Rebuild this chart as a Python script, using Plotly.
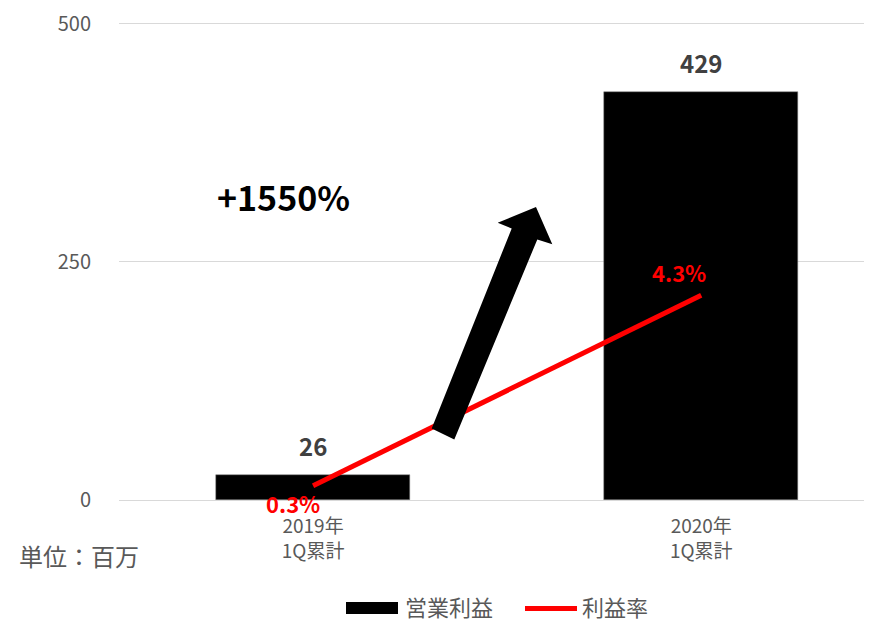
import plotly.graph_objects as go

categories = ["2019年<br>1Q累計", "2020年<br>1Q累計"]
profit = [26, 429]
margin = [0.003, 0.043]
margin_labels = ["0.3%", "4.3%"]
y_ticks = [0, 250, 500]

FONT = "Noto Sans CJK JP"
GRAY = "#595959"

fig = go.Figure()
fig.add_trace(go.Bar(x=categories, y=profit, width=0.5, marker=dict(color="black", line=dict(color="#7f7f7f", width=0.5)),
                     name="営業利益", showlegend=False, hoverinfo="skip"))
fig.add_trace(go.Scatter(x=categories, y=margin, yaxis="y2", mode="lines",
                         line=dict(color="#ff0000", width=5), name="利益率", showlegend=False, hoverinfo="skip"))

PLOT_TOP = 20  # screenshot pixel of plot-area top
PLOT_H = 480


# helpers: screenshot pixel -> plot-area paper coordinates
def px(x):
    return (x - 119) / 753


def py(y):
    return (PLOT_TOP + PLOT_H - y) / PLOT_H


ann = []
for c, v in zip(categories, profit):
    ann.append(dict(x=c, y=v, xref="x", yref="y", text=f"<b>{v}</b>", showarrow=False,
                    yanchor="bottom", yshift=10, font=dict(size=24, color="#404040", family=FONT)))
shifts = [(-20, -17), (-22, 23)]
for c, v, t, (dx, dy) in zip(categories, margin, margin_labels, shifts):
    ann.append(dict(x=c, y=v, xref="x", yref="y2", text=f"<b>{t}</b>", showarrow=False,
                    xanchor="center", yanchor="middle",
                    xshift=dx, yshift=dy, font=dict(size=22, color="#ff0000", family=FONT)))
ann.append(dict(x=px(283), y=py(195), xref="paper", yref="paper", text="<b>+1550%</b>",
                xanchor="center", yanchor="middle",
                showarrow=False, font=dict(size=34, color="black", family=FONT)))
ann.append(dict(x=px(17), y=py(556), xref="paper", yref="paper", text="単位：百万",
                showarrow=False, xanchor="left", yanchor="middle", font=dict(size=24, color=GRAY, family=FONT)))

# custom legend
ann.append(dict(x=px(403), y=py(606), xref="paper", yref="paper", text="営業利益", showarrow=False,
                xanchor="left", yanchor="middle", font=dict(size=22, color=GRAY, family=FONT)))
ann.append(dict(x=px(580), y=py(606), xref="paper", yref="paper", text="利益率", showarrow=False,
                xanchor="left", yanchor="middle", font=dict(size=22, color=GRAY, family=FONT)))

arrow_pts = [(431.7, 428.3), (511.7, 227.3), (497.7, 221.7), (536, 205.7), (552.3, 243.3), (537.3, 238.3), (454.3, 439.3)]
path = "M " + " L ".join(f"{px(x):.5f},{py(y):.5f}" for x, y in arrow_pts) + " Z"

shapes = [
    dict(type="path", path=path, xref="paper", yref="paper", fillcolor="black", line=dict(width=0)),
    dict(type="rect", x0=px(346), x1=px(398), y0=py(602.5), y1=py(614.5), xref="paper", yref="paper",
         fillcolor="black", line=dict(width=0)),
    dict(type="line", x0=px(525), x1=px(577), y0=py(609), y1=py(609), xref="paper", yref="paper",
         line=dict(color="#ff0000", width=5)),
]

fig.update_layout(
    width=864, height=611,
    margin=dict(l=111, r=0, t=12, b=119),
    paper_bgcolor="white", plot_bgcolor="white",
    font=dict(family=FONT, color=GRAY),
    xaxis=dict(type="category", range=[-0.5, 1.44], showgrid=False, showline=False, ticks="",
               tickfont=dict(size=19, color=GRAY, family=FONT), ticklabelstandoff=13, fixedrange=True),
    yaxis=dict(range=[0, 502], tickvals=y_ticks, showgrid=True, gridcolor="#d9d9d9", gridwidth=1,
               zeroline=True, zerolinecolor="#d9d9d9", zerolinewidth=1, ticklabeloverflow="allow",
               tickfont=dict(size=20, color=GRAY, family=FONT), ticklabelstandoff=27, fixedrange=True),
    yaxis2=dict(range=[0, 0.1004], overlaying="y", side="right", showgrid=False, showticklabels=False,
                zeroline=False, fixedrange=True),
    annotations=ann, shapes=shapes, showlegend=False, bargap=0,
)
fig.write_html("out.html")
